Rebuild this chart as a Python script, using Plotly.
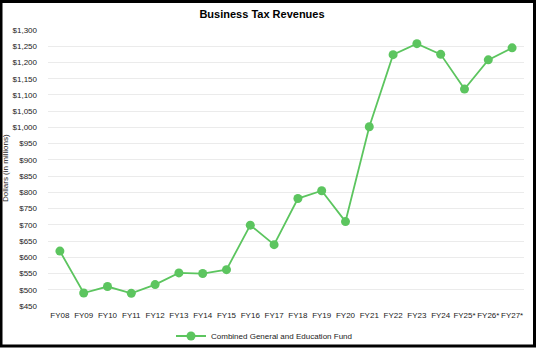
import plotly.graph_objects as go

# Fiscal years (* = projected)
years = ["FY08", "FY09", "FY10", "FY11", "FY12", "FY13", "FY14", "FY15", "FY16", "FY17",
         "FY18", "FY19", "FY20", "FY21", "FY22", "FY23", "FY24", "FY25*", "FY26*", "FY27*"]

# Combined General and Education Fund business tax revenues, $ millions
revenues = [619, 490, 510, 489, 516, 552, 550, 562, 699, 639,
            781, 805, 710, 1002, 1224, 1258, 1225, 1118, 1208, 1245]

y_ticks = list(range(450, 1301, 50))
y_tick_text = [f"${v:,}" for v in y_ticks]

W, H = 536, 348
ML, MR, MT, MB = 48, 12, 30, 42
PW, PH = W - ML - MR, H - MT - MB

GREEN = "#5cc55f"
FONT = "Liberation Sans, Arial, sans-serif"

fig = go.Figure()
fig.add_trace(go.Scatter(
    x=years, y=revenues, mode="lines+markers",
    name="Combined General and Education Fund",
    line=dict(color=GREEN, width=1.8),
    marker=dict(color=GREEN, size=9),
))


def px_x(p):
    return (p - ML) / PW


def px_y(p):
    return (H - MB - p) / PH


fig.update_layout(
    width=W, height=H,
    margin=dict(l=ML, r=MR, t=MT, b=MB, autoexpand=False),
    paper_bgcolor="white", plot_bgcolor="white",
    font=dict(family=FONT, size=8, color="#222222"),
    title=dict(text="<b>Business Tax Revenues</b>", font=dict(size=11, color="black"),
               x=262 / W, xref="container", xanchor="center",
               y=1 - 14 / H, yref="container", yanchor="middle"),
    xaxis=dict(type="category", range=[-0.5, len(years) - 0.5], showgrid=False,
               showline=False, zeroline=False, ticks="", tickangle=0, automargin=False,
               ticklabelstandoff=3, tickfont=dict(size=8, color="#222222")),
    yaxis=dict(range=[450, 1300], tickvals=y_ticks, ticktext=y_tick_text,
               showgrid=True, gridcolor="#ebebeb", gridwidth=1, zeroline=False,
               showline=False, ticks="", ticklabelstandoff=10, automargin=False,
               tickfont=dict(size=8, color="#222222")),
    showlegend=True,
    legend=dict(orientation="h", xref="container", yref="container",
                x=264 / W, xanchor="center", y=1 - 336 / H, yanchor="middle",
                font=dict(size=8, color="#222222"), bgcolor="rgba(0,0,0,0)"),
    annotations=[dict(text="Dollars (in millions)", xref="paper", yref="paper",
                      x=px_x(5), y=px_y(168), xanchor="center", yanchor="middle",
                      textangle=-90, showarrow=False,
                      font=dict(size=8, color="#222222"))],
    shapes=[dict(type="rect", xref="paper", yref="paper",
                 x0=px_x(1), x1=px_x(534.5), y0=px_y(346), y1=px_y(1.5),
                 line=dict(color="black", width=3), fillcolor="rgba(0,0,0,0)", layer="above")],
)

fig.write_html("out.html")
